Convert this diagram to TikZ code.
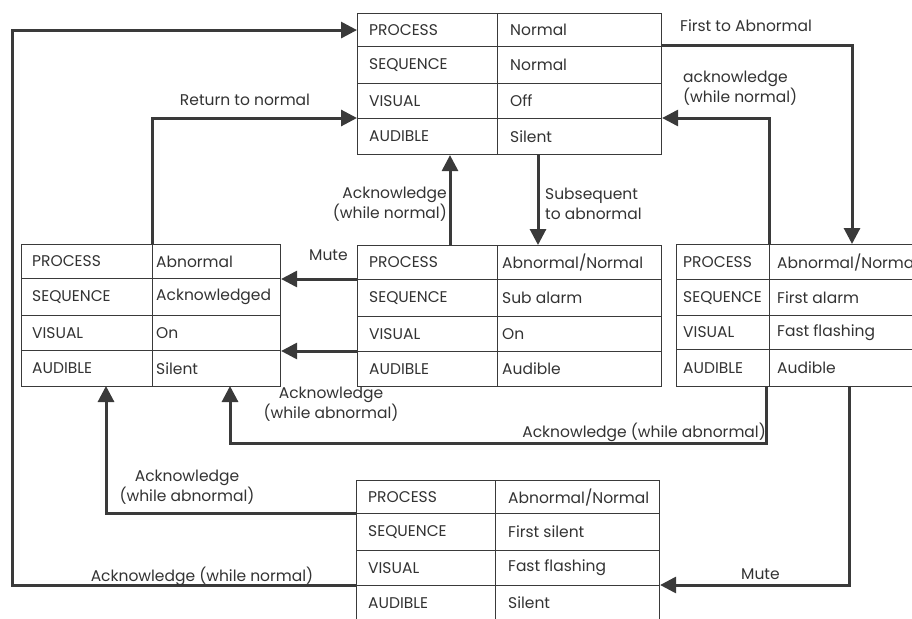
\documentclass[tikz,border=0pt]{standalone}
\usepackage{fontspec}
\setmainfont{Poppins}
\usetikzlibrary{arrows.meta}
\definecolor{ink}{HTML}{333333}
\definecolor{edge}{HTML}{3A3A3A}

% one table cell: name, x, y (top left), width, height, text indent, text
\newcommand\cellat[7]{%
  \node[cellbox, minimum width=#4pt, minimum height=#5pt] (#1) at (#2,#3) {};
  \node[celltext] (#1-t) at ([xshift=#6pt]#1.west) {#7};}

\begin{document}
\begin{tikzpicture}[x=1pt,y=-1pt,
  cellbox/.style={draw=edge, line width=1.1pt, rectangle, inner sep=0pt, anchor=north west},
  celltext/.style={text=ink, font=\fontsize{15.5}{17}\selectfont, inner sep=0pt, anchor=west},
  conn/.style={draw=edge, line width=3pt, -{Triangle[length=16pt,width=16pt]}},
  lbl/.style={text=ink, font=\fontsize{15.5}{20}\selectfont, inner sep=0pt, align=center},
]
\useasboundingbox (0,0) rectangle (912,618);
\fill[white] (0,0) rectangle (912,618);
\clip (0,0) rectangle (912,618);

% ---- state: normal
\cellat{top-l1}{357}{13}{140}{33}{12}{PROCESS}
\cellat{top-r1}{497}{13}{164}{33}{13}{Normal}
\cellat{top-l2}{357}{46}{140}{37}{12}{SEQUENCE}
\cellat{top-r2}{497}{46}{164}{37}{13}{Normal}
\cellat{top-l3}{357}{83}{140}{35}{12}{VISUAL}
\cellat{top-r3}{497}{83}{164}{35}{13}{Off}
\cellat{top-l4}{357}{118}{140}{36}{12}{AUDIBLE}
\cellat{top-r4}{497}{118}{164}{36}{13}{Silent}

% ---- state: acknowledged
\cellat{lft-l1}{21}{244}{131}{34}{11}{PROCESS}
\cellat{lft-r1}{152}{244}{128}{34}{4}{Abnormal}
\cellat{lft-l2}{21}{278}{131}{37}{11}{SEQUENCE}
\cellat{lft-r2}{152}{278}{128}{37}{4}{Acknowledged}
\cellat{lft-l3}{21}{315}{131}{35}{11}{VISUAL}
\cellat{lft-r3}{152}{315}{128}{35}{4}{On}
\cellat{lft-l4}{21}{350}{131}{36}{11}{AUDIBLE}
\cellat{lft-r4}{152}{350}{128}{36}{4}{Silent}

% ---- state: sub alarm
\cellat{mid-l1}{357}{245}{140}{34}{12}{PROCESS}
\cellat{mid-r1}{497}{245}{164}{34}{5}{Abnormal/Normal}
\cellat{mid-l2}{357}{279}{140}{37}{12}{SEQUENCE}
\cellat{mid-r2}{497}{279}{164}{37}{5}{Sub alarm}
\cellat{mid-l3}{357}{316}{140}{35}{12}{VISUAL}
\cellat{mid-r3}{497}{316}{164}{35}{5}{On}
\cellat{mid-l4}{357}{351}{140}{35}{12}{AUDIBLE}
\cellat{mid-r4}{497}{351}{164}{35}{5}{Audible}

% ---- state: first alarm
\cellat{rgt-l1}{676}{244}{93}{35}{7}{PROCESS}
\cellat{rgt-r1}{769}{244}{231}{35}{8}{Abnormal/Normal}
\cellat{rgt-l2}{676}{279}{93}{36}{7}{SEQUENCE}
\cellat{rgt-r2}{769}{279}{231}{36}{8}{First alarm}
\cellat{rgt-l3}{676}{315}{93}{34}{7}{VISUAL}
\cellat{rgt-r3}{769}{315}{231}{34}{8}{Fast flashing}
\cellat{rgt-l4}{676}{349}{93}{37}{7}{AUDIBLE}
\cellat{rgt-r4}{769}{349}{231}{37}{8}{Audible}

% ---- state: first silent
\cellat{bot-l1}{356}{480}{139}{33}{12}{PROCESS}
\cellat{bot-r1}{495}{480}{164}{33}{13}{Abnormal/Normal}
\cellat{bot-l2}{356}{513}{139}{37}{12}{SEQUENCE}
\cellat{bot-r2}{495}{513}{164}{37}{13}{First silent}
\cellat{bot-l3}{356}{550}{139}{35}{12}{VISUAL}
\cellat{bot-r3}{495}{550}{164}{35}{13}{Fast flashing}
\cellat{bot-l4}{356}{585}{139}{35}{12}{AUDIBLE}
\cellat{bot-r4}{495}{585}{164}{35}{13}{Silent}

% ---- routing points
\coordinate (outer)  at (12,300);
\coordinate (rIn)    at (852,244);
\coordinate (mUp)    at (450,245);
\coordinate (tDown)  at (538,154);
\coordinate (rDown)  at (766,386);
\coordinate (ackBend) at (230,443);
\coordinate (aUp)    at (230,386);
\coordinate (aUp2)   at (106,386);
\coordinate (rDown2) at (849,386);

% ---- transitions
\draw[conn] (bot-l4.north west) -| (outer) |- (top-l1.west);
\draw[conn] (lft-r1.north west) |- (top-l4.north west);
\draw[conn] (top-r2.north east) -| (rIn);
\draw[conn] (rgt-r1.north west) |- (top-r4.north east);
\draw[conn] (mUp) -- (mUp |- top-l4.south);
\draw[conn] (tDown) -- (tDown |- mid-r1.north);
\draw[conn] (mid-l2.north west) -- (mid-l2.north west -| lft-r2.east);
\draw[conn] (mid-l4.north west) -- (mid-l4.north west -| lft-r4.east);
\draw[conn] (rDown) |- (ackBend) -- (aUp);
\draw[conn] (bot-l2.north west) -| (aUp2);
\draw[conn] (rDown2) |- (bot-r4.north east);

% ---- transition labels
\node[lbl, anchor=west] (lb-first) at (680,26) {First to Abnormal};
\node[lbl, anchor=west, align=left] (lb-ackn1) at (683,88) {acknowledge\\(while normal)};
\node[lbl] (lb-ret) at (245,100) {Return to normal};
\node[lbl, anchor=east, align=right] (lb-ackn2) at (447,204) {Acknowledge\\(while normal)};
\node[lbl, anchor=west, align=left] (lb-sub) at (545,204) {Subsequent\\to abnormal};
\node[lbl, anchor=west] (lb-mute1) at (309,255) {Mute};
\node[lbl] (lb-acka1) at (331,404) {Acknowledge\\(while abnormal)};
\node[lbl, anchor=east] (lb-acka2) at (766,432) {Acknowledge (while abnormal)};
\node[lbl] (lb-acka3) at (187,487) {Acknowledge\\(while abnormal)};
\node[lbl] (lb-ackn3) at (202,576) {Acknowledge (while normal)};
\node[lbl, anchor=west] (lb-mute2) at (741,574) {Mute};
\end{tikzpicture}
\end{document}
